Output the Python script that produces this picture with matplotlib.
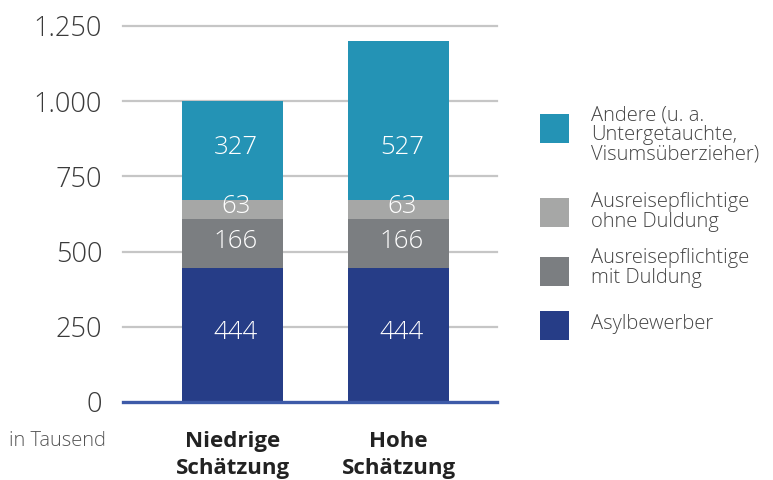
import matplotlib
matplotlib.use("Agg")
import matplotlib.pyplot as plt
from matplotlib.patches import Rectangle

# ---- data ----
categories = ["Niedrige\nSchätzung", "Hohe\nSchätzung"]
series_names = ["Asylbewerber",
                "Ausreisepflichtige\nmit Duldung",
                "Ausreisepflichtige\nohne Duldung",
                "Andere (u. a.\nUntergetauchte,\nVisumsüberzieher)"]
asylbewerber = [444, 444]
mit_duldung = [166, 166]
ohne_duldung = [63, 63]
andere = [327, 527]
yticks = [0, 250, 500, 750, 1000, 1250]
ytick_labels = ["0", "250", "500", "750", "1.000", "1.250"]
unit_label = "in Tausend"

colors = ["#263d87", "#7b7e81", "#a6a7a6", "#2493b5"]
series = [asylbewerber, mit_duldung, ohne_duldung, andere]

plt.rcParams['font.family'] = ['Open Sans', 'DejaVu Sans']
LW = 300

W, H = 773, 480
fig = plt.figure(figsize=(W / 100, H / 100), dpi=100)
ax = fig.add_axes([123 / W, 78 / H, 374 / W, 376 / H])

x = list(range(len(categories)))
bottoms = [0] * len(categories)
for vals, col in zip(series, colors):
    ax.bar(x, vals, width=0.608, bottom=bottoms, color=col, zorder=3)
    # labels of one series are aligned across bars
    off = min(vals) / 2
    for xi, v, b in zip(x, vals, bottoms):
        ax.text(xi + 0.02, b + off + 8, str(v), ha='center', va='center',
                color='white', fontsize=18.5, fontweight=LW, zorder=4)
    bottoms = [b + v for b, v in zip(bottoms, vals)]

ax.set_xlim(-0.66, 1.593)
ax.set_ylim(0, 1250)

for t in yticks[1:]:
    ax.axhline(t, color='#c6c6c6', lw=1.6, zorder=1, clip_on=False)
ax.axhline(0, color='#3d5aa8', lw=2.4, zorder=5, clip_on=False)

for s in ax.spines.values():
    s.set_visible(False)
ax.set_yticks(yticks)
ax.set_yticklabels(ytick_labels, fontsize=19.5, color='#3a3a3a', fontweight=LW)
ax.tick_params(axis='y', length=0, pad=15)
ax.set_xticks(x)
ax.set_xticklabels(categories, fontsize=16, fontweight='bold', color='#222222',
                   linespacing=1.36, va='top')
ax.tick_params(axis='x', length=0, pad=21)

fig.text(9 / W, 1 - 441 / H, unit_label, fontsize=14.5, color='#555555',
         va='center', ha='left', fontweight=LW)

# ---- legend (manual) ----
sq_centers = [128, 212, 271, 325]
txt_centers = [135, 212, 268, 324]
leg_order = [3, 2, 1, 0]
for i, k in enumerate(leg_order):
    yc = sq_centers[i]
    fig.patches.append(Rectangle((540 / W, 1 - (yc + 14.5) / H), 29 / W, 29 / H,
                                 transform=fig.transFigure, facecolor=colors[k],
                                 edgecolor='none'))
    fig.text(591 / W, 1 - txt_centers[i] / H, series_names[k], fontsize=14.5,
             color='#444444', va='center', ha='left', linespacing=0.95,
             fontweight=LW)

fig.savefig("out.png", dpi=100, facecolor='white')
